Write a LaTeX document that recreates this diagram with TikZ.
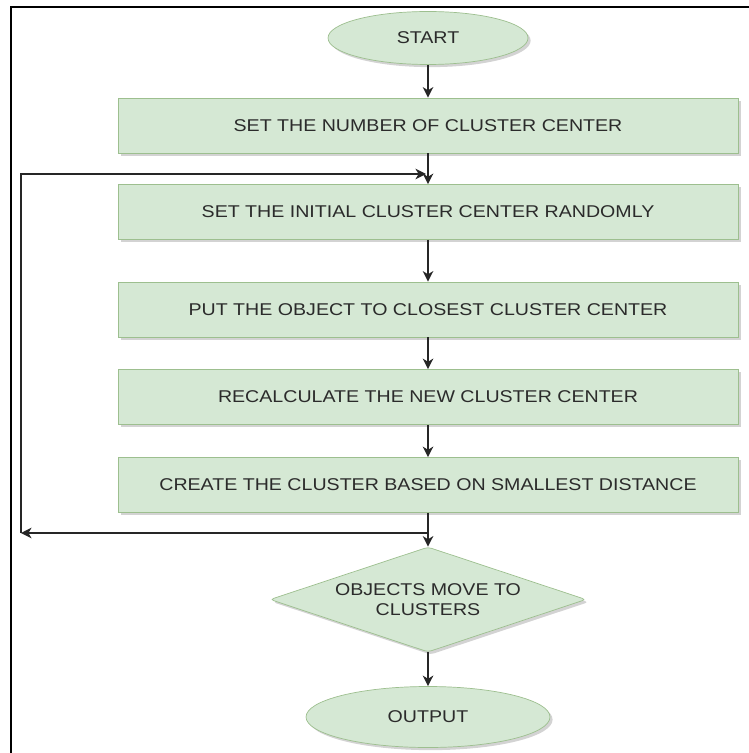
\documentclass[tikz,border=0pt]{standalone}
\usepackage{fontspec}
\setmainfont{Liberation Sans}[FakeStretch=1.15]
\usetikzlibrary{arrows.meta}
\usetikzlibrary{positioning}
\usetikzlibrary{shapes.geometric}
\usetikzlibrary{shadows}
\definecolor{boxfill}{HTML}{D5E8D4}
\definecolor{boxline}{HTML}{9DBF8F}
\definecolor{txt}{HTML}{2B2B2B}

\begin{document}
\begin{tikzpicture}
  [x=0.02cm,y=-0.02cm,
   flow/.style={fill=boxfill,draw=boxline,text=txt,font=\fontsize{9.7}{11.5}\selectfont,
     drop shadow={shadow xshift=1.5pt,shadow yshift=-1.5pt,opacity=.35}},
   box/.style={flow,rectangle,minimum width=12.4cm,minimum height=1.1cm},
   term/.style={flow,ellipse,inner sep=0pt},
   decide/.style={flow,diamond,aspect=3,inner sep=0pt,minimum width=6.32cm,
     minimum height=2.1cm,align=center,rounded corners=2pt},
   arr/.style={-{Stealth[length=6pt,width=6pt,inset=1.8pt]},line width=0.9pt,draw=black!85}]
  \useasboundingbox (0,0) rectangle (749,753);
  % frame of the screenshot
  \draw[line width=0.6pt] (11,753) -- (11,7) -- (749,7);

  \node[term,minimum width=4cm,minimum height=1.06cm] (s) at (428,38) {START};
  \node[box] (b1) at (428,125.5) {SET THE NUMBER OF CLUSTER CENTER};
  \node[box] (b2) at (428,212) {SET THE INITIAL CLUSTER CENTER RANDOMLY};
  \node[box] (b3) at (428,309.5) {PUT THE OBJECT TO CLOSEST CLUSTER CENTER};
  \node[box] (b4) at (428,397) {RECALCULATE THE NEW CLUSTER CENTER};
  \node[box] (b5) at (428,485) {CREATE THE CLUSTER BASED ON SMALLEST DISTANCE};
  \node[decide] (d) at (428,599.5) {OBJECTS MOVE TO\\CLUSTERS};
  \node[term,minimum width=4.88cm,minimum height=1.22cm] (o) at (428,717) {OUTPUT};

  \coordinate (j5) at (428,533);
  \coordinate (lb) at (21,533);
  \coordinate (j1) at (426,174);

  \foreach \from/\to in
    {s/b1, b1/b2, b2/b3, b3/b4, b4/b5, b5/d, d/o}
    \draw[arr] (\from) -- (\to);
  % loop back
  \draw[arr] (j5) -- (lb);
  \draw[arr] (lb) |- (j1);
\end{tikzpicture}
\end{document}
